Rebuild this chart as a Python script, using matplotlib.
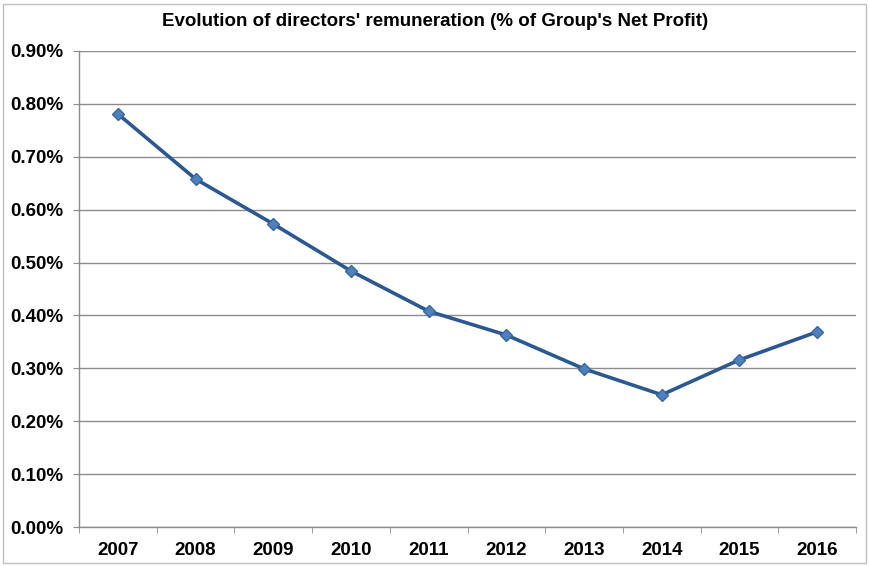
import matplotlib
matplotlib.use("Agg")
import matplotlib.pyplot as plt
from matplotlib.ticker import FuncFormatter, MultipleLocator, FixedLocator
from matplotlib.patches import Rectangle

years = ["2007", "2008", "2009", "2010", "2011", "2012", "2013", "2014", "2015", "2016"]
remuneration_pct = [0.781, 0.658, 0.573, 0.484, 0.408, 0.363, 0.299, 0.250, 0.316, 0.369]
title = "Evolution of directors' remuneration (% of Group's Net Profit)"

plt.rcParams['font.family'] = ['Liberation Sans', 'DejaVu Sans']

fig = plt.figure(figsize=(8.69, 5.66), dpi=100)
W, H = 869, 566
ax = fig.add_axes([79 / W, 1 - 527 / H, (856 - 79) / W, (527 - 51) / H])

x = list(range(len(years)))
ax.plot(x, remuneration_pct, color='#2C5891', linewidth=2.6, marker='D',
        markersize=6.5, markerfacecolor='#4F81BD', markeredgecolor='#3A67A0',
        markeredgewidth=1, zorder=3, solid_capstyle='round')

ax.set_xlim(-0.5, len(years) - 0.5)
ax.set_ylim(0, 0.9)
ax.yaxis.set_major_locator(MultipleLocator(0.1))
ax.yaxis.set_major_formatter(FuncFormatter(lambda v, p: f"{v:.2f}%"))
ax.grid(axis='y', color='#8C8C8C', linewidth=1.0)
ax.set_axisbelow(True)

ax.set_xticks(x)
ax.set_xticklabels(years)
ax.xaxis.set_minor_locator(FixedLocator([i - 0.5 for i in range(len(years) + 1)]))
ax.tick_params(axis='x', which='major', length=0, pad=11, labelsize=13.5)
ax.tick_params(axis='x', which='minor', length=4.5, direction='out', color='#8C8C8C')
ax.tick_params(axis='y', length=4.5, direction='out', color='#8C8C8C', labelsize=13.5, pad=7)
for lab in ax.get_xticklabels() + ax.get_yticklabels():
    lab.set_fontweight('bold')

for s in ['top', 'right']:
    ax.spines[s].set_visible(False)
for s in ['left', 'bottom']:
    ax.spines[s].set_color('#8C8C8C')
    ax.spines[s].set_linewidth(1.0)

fig.text(435 / W, 1 - 22 / H, title, ha='center', va='center',
         fontsize=13.5, fontweight='bold')

fig.patches.append(Rectangle((3 / W, 3 / H), (866 - 3) / W, (562 - 3) / H,
                             transform=fig.transFigure, fill=False,
                             edgecolor='#BFBFBF', linewidth=1.0))

fig.savefig("out.png", dpi=100)
